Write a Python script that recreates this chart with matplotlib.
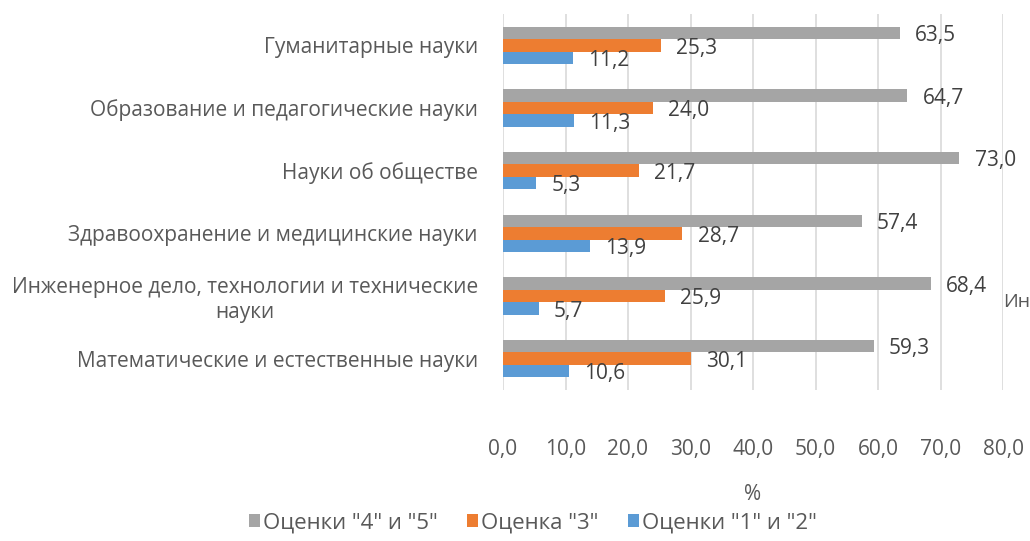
import matplotlib
matplotlib.use('Agg')
import matplotlib.pyplot as plt
import numpy as np

plt.rcParams['font.family'] = ['Open Sans', 'DejaVu Sans']

# Data (bottom -> top as drawn)
categories = [
    'Математические и естественные науки',
    'Инженерное дело, технологии и технические\nнауки',
    'Здравоохранение и медицинские науки',
    'Науки об обществе',
    'Образование и педагогические науки',
    'Гуманитарные науки',
]
grades_45 = [59.3, 68.4, 57.4, 73.0, 64.7, 63.5]
grades_3 = [30.1, 25.9, 28.7, 21.7, 24.0, 25.3]
grades_12 = [10.6, 5.7, 13.9, 5.3, 11.3, 11.2]
series_names = ['Оценки "4" и "5"', 'Оценка "3"', 'Оценки "1" и "2"']
series_colors = ['#a5a5a5', '#ed7d31', '#5b9bd5']
xticks = np.arange(0, 81, 10)

TEXT = '#595959'
FS = 15

fig = plt.figure(figsize=(10.3, 5.41), dpi=100)
ax = fig.add_axes([503 / 1030, 1 - 390 / 541, 500 / 1030, 376 / 541])

y = np.arange(len(categories))
h = 0.2
series = [grades_45, grades_3, grades_12]
offsets = [h, 0, -h]
for vals, off, col, name in zip(series, offsets, series_colors, series_names):
    bars = ax.barh(y + off, vals, height=h, color=col, label=name, zorder=3)
    for b, v in zip(bars, vals):
        ax.annotate(f'{v:.1f}'.replace('.', ','),
                    xy=(b.get_width(), b.get_y() + b.get_height() / 2),
                    xytext=(11, -2), textcoords='offset points',
                    ha='left', va='center', fontsize=FS, color='#404040')

ax.set_xlim(0, 80)
ax.set_ylim(-0.5, len(categories) - 0.5)
ax.set_xticks(xticks)
ax.set_xticklabels([f'{t:.1f}'.replace('.', ',') for t in xticks])
ax.set_yticks(y)
ax.set_yticklabels(categories, ha='right', multialignment='center')
ax.tick_params(axis='both', length=0, labelsize=FS, colors=TEXT)
ax.tick_params(axis='x', pad=35)
ax.tick_params(axis='y', pad=18)
ax.grid(axis='x', color='#d9d9d9', linewidth=1.2, zorder=0)
for s in ax.spines.values():
    s.set_visible(False)

ax.set_xlabel('%', fontsize=FS, color=TEXT, va='center')
ax.xaxis.set_label_coords(0.5, (46 - 151) / 376)

# clipped leftover label at the right edge
fig.text(1003 / 1030, 1 - 302 / 541, 'Ин', fontsize=14, color=TEXT,
         ha='left', va='center')

fig.legend(loc='center', bbox_to_anchor=(533 / 1030, 1 - 523 / 541), ncol=3,
           frameon=False, fontsize=16, handlelength=0.5, handleheight=0.5,
           handletextpad=0.15, columnspacing=1.3, labelcolor=TEXT)

fig.savefig('out.png', dpi=100)
